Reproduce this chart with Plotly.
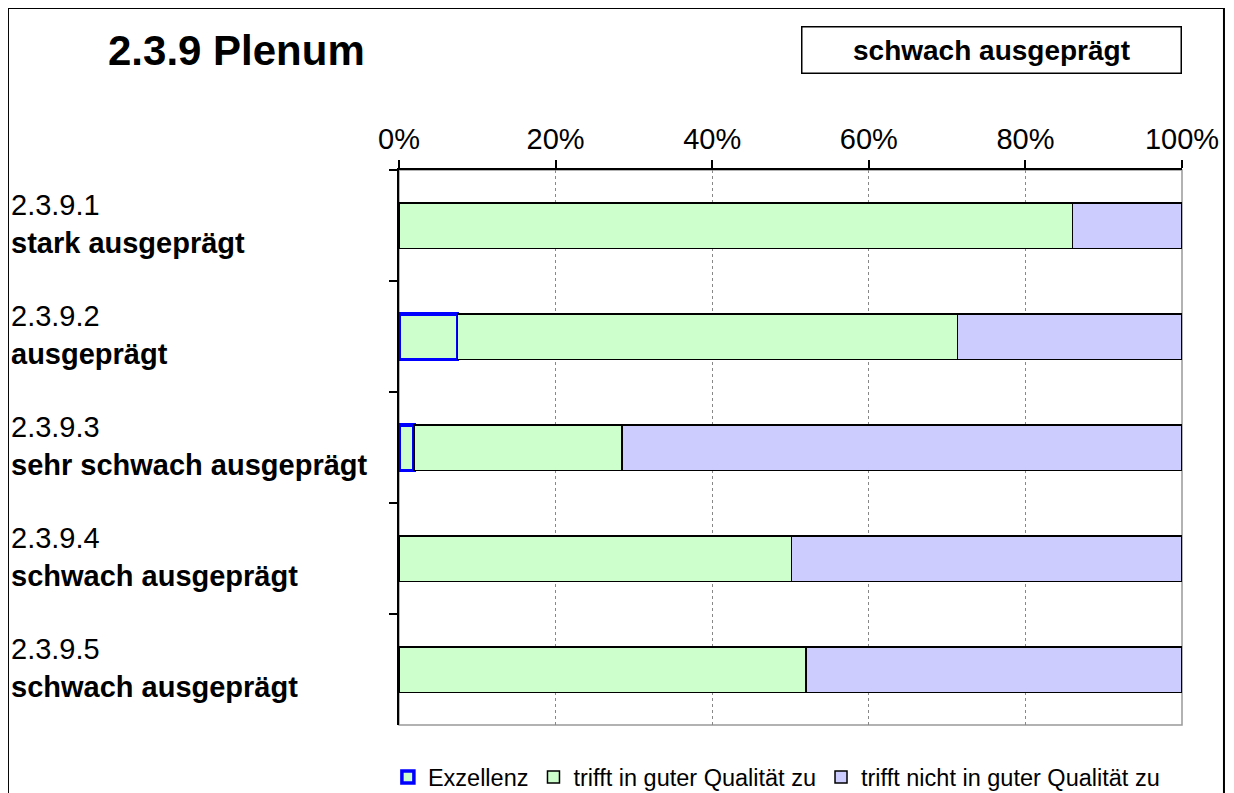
import plotly.graph_objects as go

# data (shares of 1.0)
codes = ["2.3.9.1", "2.3.9.2", "2.3.9.3", "2.3.9.4", "2.3.9.5"]
ratings = ["stark ausgeprägt", "ausgeprägt", "sehr schwach ausgeprägt",
           "schwach ausgeprägt", "schwach ausgeprägt"]
exzellenz = [0.0, 0.075, 0.019, 0.0, 0.0]
guter_qualitaet = [0.86, 0.638, 0.266, 0.501, 0.52]
nicht_guter_qualitaet = [0.14, 0.287, 0.715, 0.499, 0.48]
x_ticks = [0, 0.2, 0.4, 0.6, 0.8, 1.0]

title = "2.3.9 Plenum"
overall = "schwach ausgeprägt"

FONT = "Liberation Sans, Arial, sans-serif"
GREEN = "#CCFFCC"
LILAC = "#CCCCFF"

fig = go.Figure()
fig.add_trace(go.Bar(
    y=codes, x=exzellenz, name="Exzellenz", orientation="h",
    marker=dict(color=GREEN, line=dict(color="#0000FF", width=3.5)),
    width=0.41))
fig.add_trace(go.Bar(
    y=codes, x=guter_qualitaet, name="trifft in guter Qualität zu", orientation="h",
    marker=dict(color=GREEN, line=dict(color="black", width=1.5)),
    width=0.41))
fig.add_trace(go.Bar(
    y=codes, x=nicht_guter_qualitaet, name="trifft nicht in guter Qualität zu",
    orientation="h",
    marker=dict(color=LILAC, line=dict(color="black", width=1.5)),
    width=0.41))

# left side labels: code in regular, rating in bold
annotations = []
for c, r in zip(codes, ratings):
    annotations.append(dict(x=-0.4985, y=c, xref="paper", yref="y", text=c,
                            showarrow=False, xanchor="left", yshift=21,
                            font=dict(size=29, color="black", family=FONT)))
    annotations.append(dict(x=-0.4985, y=c, xref="paper", yref="y",
                            text="<b>" + r + "</b>",
                            showarrow=False, xanchor="left", yshift=-17,
                            font=dict(size=29, color="black", family=FONT)))

annotations.append(dict(x=-0.207, y=1.216, xref="paper", yref="paper",
                        text="<b>" + title + "</b>", showarrow=False,
                        xanchor="center", yanchor="middle",
                        font=dict(size=42, color="black", family=FONT)))
annotations.append(dict(x=0.757, y=1.216, xref="paper", yref="paper",
                        text="<b>" + overall + "</b>", showarrow=False,
                        xanchor="center", yanchor="middle",
                        width=376, height=43, bordercolor="black", borderwidth=1.5,
                        font=dict(size=28, color="black", family=FONT)))

shapes = [
    # outer frame
    dict(type="rect", xref="paper", yref="paper", x0=-0.4994, x1=1.0536,
         y0=-0.2, y1=1.2919, line=dict(color="black", width=2)),
    # gray plot area border
    dict(type="rect", xref="paper", yref="paper", x0=0, x1=1, y0=0, y1=1,
         line=dict(color="#999999", width=1.5), layer="below"),
]

fig.update_layout(
    width=1226, height=785,
    barmode="stack",
    bargap=0.59,
    plot_bgcolor="white",
    paper_bgcolor="white",
    margin=dict(l=391, r=52, t=162, b=68, autoexpand=False),
    font=dict(family=FONT, color="black"),
    annotations=annotations,
    shapes=shapes,
    showlegend=True,
    legend=dict(orientation="h", x=0.482, xanchor="center",
                yref="container", y=0.02, yanchor="middle",
                font=dict(size=23.5, family=FONT),
                traceorder="normal", itemwidth=30),
    xaxis=dict(side="top", range=[0, 1], tickvals=x_ticks, tickformat=".0%",
               ticks="outside", ticklen=8, tickcolor="black", tickwidth=1.5,
               showline=True, linecolor="black", linewidth=1.5,
               showgrid=True, gridcolor="#888888", griddash="dot", gridwidth=1,
               zeroline=False, tickfont=dict(size=29, family=FONT),
               fixedrange=True),
    yaxis=dict(autorange="reversed", showticklabels=False, tickson="boundaries",
               ticks="outside", ticklen=8, tickcolor="black", tickwidth=1.5,
               showline=True, linecolor="black", linewidth=1.5,
               showgrid=False, zeroline=False, fixedrange=True),
)

fig.write_html("out.html")
